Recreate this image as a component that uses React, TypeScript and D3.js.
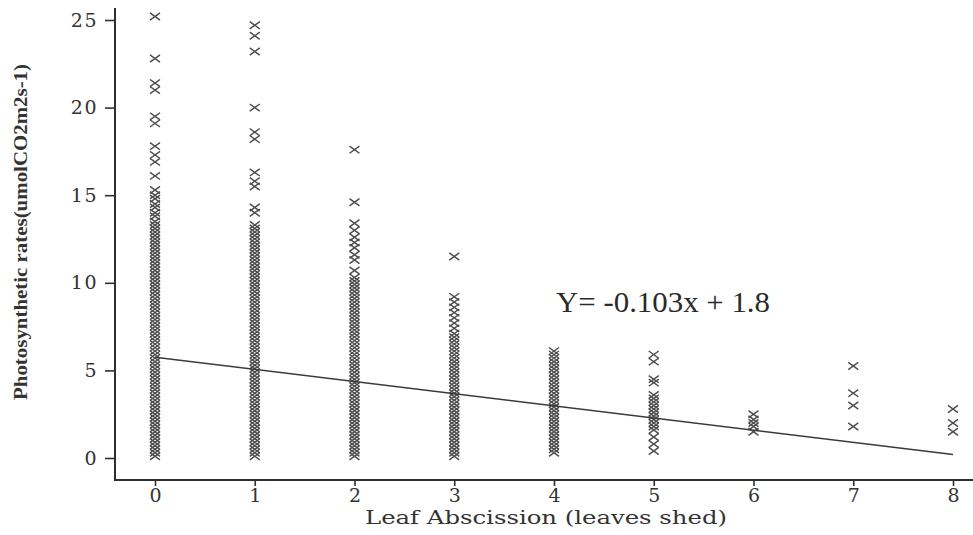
import React, { useEffect, useRef } from "react";
import * as d3 from "d3";

// Number of leaves shed (x categories)
const leavesShed = [0, 1, 2, 3, 4, 5, 6, 7, 8];

// Photosynthetic rate observations for each leaf-shed count
const rates0 = [
  0.1, 0.3, 0.5, 0.7, 0.9, 1.1, 1.3, 1.5, 1.7, 1.9, 2.1, 2.3, 2.5, 2.7, 2.9, 3.1, 3.3, 3.5, 3.7, 3.9,
  4.1, 4.3, 4.5, 4.7, 4.9, 5.1, 5.3, 5.5, 5.7, 5.9, 6.1, 6.3, 6.5, 6.7, 6.9, 7.1, 7.3, 7.5, 7.7, 7.9,
  8.1, 8.3, 8.5, 8.7, 8.9, 9.1, 9.3, 9.5, 9.7, 9.9, 10.1, 10.3, 10.5, 10.7, 10.9, 11.1, 11.3, 11.5,
  11.7, 11.9, 12.1, 12.3, 12.5, 12.7, 12.9, 13.1, 13.3, 13.5, 13.8, 14.0, 14.3, 14.5, 14.8, 15.0,
  15.3, 16.1, 16.9, 17.3, 17.8, 19.1, 19.5, 21.0, 21.4, 22.8, 25.2,
];
const rates1 = [
  0.1, 0.3, 0.5, 0.7, 0.9, 1.1, 1.3, 1.5, 1.7, 1.9, 2.1, 2.3, 2.5, 2.7, 2.9, 3.1, 3.3, 3.5, 3.7, 3.9,
  4.1, 4.3, 4.5, 4.7, 4.9, 5.1, 5.3, 5.5, 5.7, 5.9, 6.1, 6.3, 6.5, 6.7, 6.9, 7.1, 7.3, 7.5, 7.7, 7.9,
  8.1, 8.3, 8.5, 8.7, 8.9, 9.1, 9.3, 9.5, 9.7, 9.9, 10.1, 10.3, 10.5, 10.7, 10.9, 11.1, 11.3, 11.5,
  11.7, 11.9, 12.1, 12.3, 12.5, 12.7, 12.9, 13.1, 13.3, 14.0, 14.3, 15.5, 15.8, 16.3, 18.2, 18.6,
  20.0, 23.2, 24.1, 24.7,
];
const rates2 = [
  0.1, 0.3, 0.5, 0.7, 0.9, 1.1, 1.3, 1.5, 1.7, 1.9, 2.1, 2.3, 2.5, 2.7, 2.9, 3.1, 3.3, 3.5, 3.7, 3.9,
  4.1, 4.3, 4.5, 4.7, 4.9, 5.1, 5.3, 5.5, 5.7, 5.9, 6.1, 6.3, 6.5, 6.7, 6.9, 7.1, 7.3, 7.5, 7.7, 7.9,
  8.1, 8.3, 8.5, 8.7, 8.9, 9.1, 9.3, 9.5, 9.7, 9.9, 10.1, 10.3, 10.7, 11.3, 11.6, 12.0, 12.3, 12.6,
  13.0, 13.4, 14.6, 17.6,
];
const rates3 = [
  0.1, 0.3, 0.5, 0.7, 0.9, 1.1, 1.3, 1.5, 1.7, 1.9, 2.1, 2.3, 2.5, 2.7, 2.9, 3.1, 3.3, 3.5, 3.7, 3.9,
  4.1, 4.3, 4.5, 4.7, 4.9, 5.1, 5.3, 5.5, 5.7, 5.9, 6.1, 6.3, 6.5, 6.7, 6.9, 7.1, 7.4, 7.7, 8.0, 8.3,
  8.6, 8.9, 9.2, 11.5,
];
const rates4 = [
  0.3, 0.5, 0.7, 0.9, 1.1, 1.3, 1.5, 1.7, 1.9, 2.1, 2.3, 2.5, 2.7, 2.9, 3.1, 3.3, 3.5, 3.7, 3.9, 4.1,
  4.3, 4.5, 4.7, 4.9, 5.1, 5.3, 5.5, 5.7, 5.9, 6.1,
];
const rates5 = [0.4, 0.8, 1.2, 1.6, 1.8, 2.0, 2.2, 2.4, 2.6, 2.8, 3.0, 3.2, 3.4, 3.6, 4.3, 4.5, 5.5, 5.9];
const rates6 = [1.5, 1.8, 2.0, 2.2, 2.5];
const rates7 = [1.8, 3.0, 3.7, 5.25];
const rates8 = [1.5, 2.0, 2.8];

const ratesByLeaves = [rates0, rates1, rates2, rates3, rates4, rates5, rates6, rates7, rates8];

// Fitted trend line end points
const trendX = [0, 8];
const trendY = [5.75, 0.2];

const yTicks = [0, 5, 10, 15, 20, 25];
const equationLabel = "Y= -0.103x + 1.8";
const xTitle = "Leaf Abscission (leaves shed)";
const yTitle = "Photosynthetic rates(umolCO2m2s-1)";

const W = 973;
const H = 535;

export default function App() {
  const ref = useRef<SVGSVGElement>(null);

  useEffect(() => {
    const svg = d3.select(ref.current);
    svg.selectAll("*").remove();

    const x = d3.scaleLinear().domain([0, 8]).range([155, 953]);
    const y = d3.scaleLinear().domain([0, 25]).range([458, 20]);

    const axisColor = "#2f2f2f";
    const tickFont = "'DejaVu Serif', serif";

    // Axis lines
    svg.append("line")
      .attr("x1", 115).attr("x2", 115).attr("y1", 8).attr("y2", 481)
      .attr("stroke", axisColor).attr("stroke-width", 2);
    svg.append("line")
      .attr("x1", 114).attr("x2", W).attr("y1", 480).attr("y2", 480)
      .attr("stroke", axisColor).attr("stroke-width", 2);

    // Y axis ticks
    const gy = svg.append("g").attr("transform", "translate(115,0)")
      .call(d3.axisLeft(y).tickValues(yTicks).tickSize(10).tickPadding(7).tickFormat(d3.format("d")));
    gy.select(".domain").remove();
    gy.selectAll(".tick line").attr("stroke", axisColor).attr("stroke-width", 1.6);
    gy.selectAll(".tick text")
      .attr("font-family", tickFont).attr("font-size", 19).attr("letter-spacing", 1.5)
      .attr("fill", "#333");

    // X axis ticks
    const gx = svg.append("g").attr("transform", "translate(0,480)")
      .call(d3.axisBottom(x).tickValues(leavesShed).tickSize(6).tickPadding(3).tickFormat(d3.format("d")));
    gx.select(".domain").remove();
    gx.selectAll(".tick line").attr("stroke", axisColor).attr("stroke-width", 1.6);
    gx.selectAll(".tick text")
      .attr("font-family", tickFont).attr("font-size", 19)
      .attr("fill", "#333");

    // Observation markers (x glyphs)
    const hw = 5;
    const hh = 3.6;
    const pts: [number, number][] = [];
    ratesByLeaves.forEach((vals, i) => vals.forEach((v) => pts.push([leavesShed[i], v])));
    svg.append("g")
      .selectAll("path")
      .data(pts)
      .join("path")
      .attr("d", (d) => {
        const cx = x(d[0]);
        const cy = y(d[1]);
        return `M${cx - hw},${cy - hh}L${cx + hw},${cy + hh}M${cx - hw},${cy + hh}L${cx + hw},${cy - hh}`;
      })
      .attr("stroke", "#4d4d4d")
      .attr("stroke-width", 1.45)
      .attr("fill", "none");

    // Trend line
    const line = d3.line<number>().x((d) => x(d)).y((_, i) => y(trendY[i]));
    svg.append("path")
      .attr("d", line(trendX))
      .attr("stroke", "#3a3a3a").attr("stroke-width", 1.4).attr("fill", "none");

    // Equation
    svg.append("text")
      .attr("x", 556).attr("y", 312)
      .attr("font-family", "'Liberation Serif', serif").attr("font-size", 29)
      .attr("fill", "#2a2a2a")
      .attr("textLength", 214).attr("lengthAdjust", "spacingAndGlyphs")
      .text(equationLabel);

    // Axis titles
    svg.append("text")
      .attr("x", 546).attr("y", 524).attr("text-anchor", "middle")
      .attr("font-family", tickFont).attr("font-size", 19)
      .attr("fill", "#333")
      .attr("textLength", 362).attr("lengthAdjust", "spacingAndGlyphs")
      .text(xTitle);

    svg.append("text")
      .attr("transform", "translate(27,232) rotate(-90)")
      .attr("text-anchor", "middle")
      .attr("font-family", "'Liberation Serif', serif").attr("font-size", 19)
      .attr("font-weight", 600)
      .attr("fill", "#333")
      .attr("textLength", 336).attr("lengthAdjust", "spacingAndGlyphs")
      .text(yTitle);
  }, []);

  return (
    <svg
      ref={ref}
      width={W}
      height={H}
      style={{ position: "absolute", left: 0, top: 0, background: "#fff" }}
    />
  );
}
